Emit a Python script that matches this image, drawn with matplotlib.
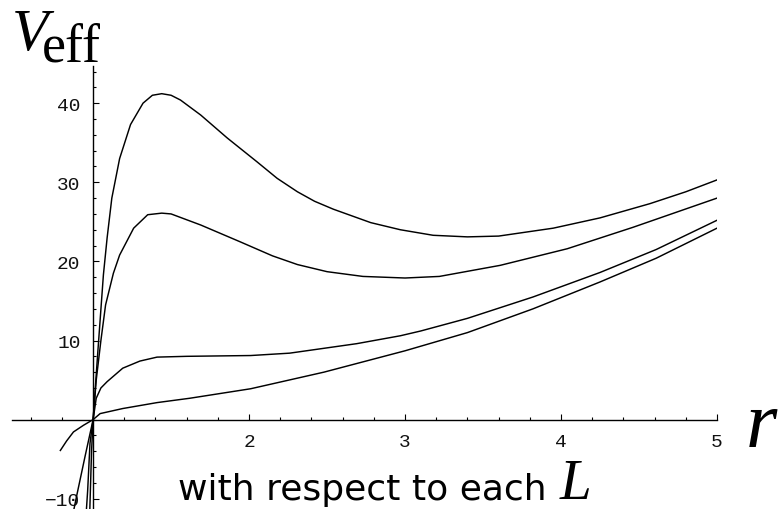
import matplotlib
matplotlib.use("Agg")
import matplotlib.pyplot as plt
from matplotlib.ticker import MultipleLocator, FixedLocator, FixedFormatter

# ---- data ----
r1 = [0.978, 0.99, 1.0, 1.03, 1.066, 1.09, 1.12, 1.17, 1.24, 1.32, 1.38, 1.44, 1.5, 1.56,
      1.69, 1.86, 2.05, 2.18, 2.31, 2.42, 2.54, 2.78, 2.97, 3.18, 3.4, 3.6, 3.95, 4.25,
      4.57, 4.8, 5.0]
v1 = [-12, -4, 0, 8.5, 18.3, 23.0, 28.0, 33.0, 37.3, 40.0, 41.0, 41.2, 41.0, 40.4,
      38.5, 35.6, 32.6, 30.5, 28.8, 27.6, 26.6, 24.9, 24.0, 23.3, 23.1, 23.2, 24.2, 25.5,
      27.3, 28.8, 30.3]

r2 = [0.955, 0.965, 0.98, 1.0, 1.02, 1.05, 1.08, 1.13, 1.17, 1.26, 1.35, 1.44, 1.5, 1.69,
      1.94, 2.15, 2.31, 2.5, 2.73, 3.0, 3.22, 3.61, 4.04, 4.46, 5.0]
v2 = [-12, -9, -3, 0, 5, 10, 14.5, 18.5, 20.8, 24.2, 25.9, 26.1, 26.0, 24.6,
      22.5, 20.7, 19.6, 18.7, 18.1, 17.9, 18.1, 19.5, 21.6, 24.3, 28.0]

r3 = [0.87, 0.895, 0.95, 1.0, 1.02, 1.05, 1.09, 1.19, 1.3, 1.41, 1.6, 2.01, 2.26, 2.69,
      2.97, 3.1, 3.4, 3.82, 4.25, 4.61, 5.0]
v3 = [-12, -9.6, -4.5, 0, 2.7, 4.0, 4.8, 6.5, 7.4, 7.9, 8.0, 8.1, 8.4, 9.6,
      10.6, 11.2, 12.8, 15.5, 18.6, 21.5, 25.2]

r4 = [0.79, 0.83, 0.874, 0.938, 1.0, 1.045, 1.19, 1.41, 1.62, 2.01, 2.48, 3.0, 3.4,
      3.82, 4.25, 4.61, 5.0]
v4 = [-3.9, -2.7, -1.56, -0.72, 0, 0.76, 1.4, 2.15, 2.7, 3.9, 6.0, 8.7, 11.0,
      14.0, 17.4, 20.4, 24.2]

x_ticks = [2, 3, 4, 5]
x_tick_labels = ["2", "3", "4", "5"]
y_ticks = [-10, 10, 20, 30, 40]
y_tick_labels = ["\u221210", "10", "20", "30", "40"]

W, H = 779, 510
fig = plt.figure(figsize=(W / 100, H / 100), dpi=100)
ax = fig.add_axes([12 / W, 0, (717 - 12) / W, (510 - 67) / H])
ax.set_xlim(0.48, 5.0)
ax.set_ylim(-11.3, 44.7)

for r, v in [(r1, v1), (r2, v2), (r3, v3), (r4, v4)]:
    ax.plot(r, v, color="black", lw=1.05, solid_joinstyle="round")

for s in ["top", "right"]:
    ax.spines[s].set_visible(False)
ax.spines["left"].set_position(("data", 1))
ax.spines["bottom"].set_position(("data", 0))
for s in ["left", "bottom"]:
    ax.spines[s].set_linewidth(1.0)
    ax.spines[s].set_color("black")

ax.xaxis.set_major_locator(FixedLocator(x_ticks))
ax.xaxis.set_major_formatter(FixedFormatter(x_tick_labels))
ax.xaxis.set_minor_locator(MultipleLocator(0.2))
ax.yaxis.set_major_locator(FixedLocator(y_ticks))
ax.yaxis.set_major_formatter(FixedFormatter(y_tick_labels))
ax.yaxis.set_minor_locator(MultipleLocator(2))

ax.tick_params(which="both", direction="in", color="black", width=0.8)
ax.tick_params(which="major", length=4.5)
ax.tick_params(which="minor", length=2.5)
ax.tick_params(axis="x", which="major", pad=10)
ax.tick_params(axis="y", which="major", pad=9)
for lab in ax.get_xticklabels() + ax.get_yticklabels():
    lab.set_fontfamily("Liberation Mono")
    lab.set_fontsize(14)
    lab.set_color("#111111")

serif = "Liberation Serif"
fig.text(12 / W, 1 - 50 / H, "V", family=serif, style="italic", fontsize=43,
         va="baseline", ha="left")
fig.text(42 / W, 1 - 62 / H, "eff", family=serif, fontsize=39,
         va="baseline", ha="left")
fig.text(746 / W, 1 - 447 / H, "r", family=serif, style="italic", fontsize=58,
         va="baseline", ha="left")
fig.text(178 / W, 1 - 500 / H, "with respect to each", family="DejaVu Sans",
         fontsize=26, va="baseline", ha="left")
fig.text(560 / W, 1 - 499 / H, "L", family=serif, style="italic", fontsize=41,
         va="baseline", ha="left")

fig.savefig("out.png", dpi=100)
